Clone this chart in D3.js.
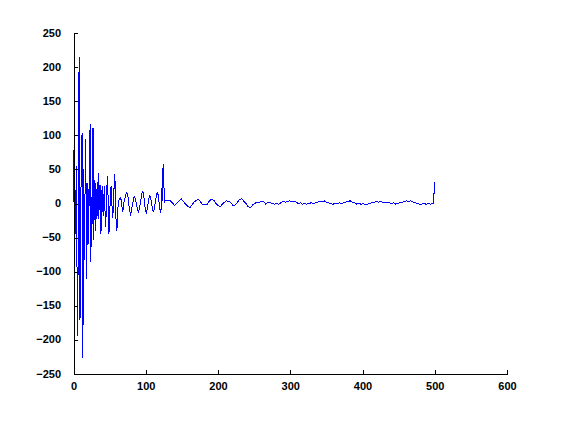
<!DOCTYPE html>
<html><head><meta charset="utf-8">
<script src="https://cdn.jsdelivr.net/npm/d3@7"></script>
<style>body{margin:0;background:#fff;overflow:hidden}</style>
</head><body>
<svg id="chart" width="561" height="421"></svg>
<script>
const xTicks = [0, 100, 200, 300, 400, 500, 600];
const yTicks = [-250, -200, -150, -100, -50, 0, 50, 100, 150, 200, 250];

// samples 0..127 (one per index)
const headValues = [78,-30,27,-45,55,-117,-195,152,215,-171,
  -20,88,104,-226,50,-83,20,95,-111,-40,
  30,-60,60,117,-86,10,-30,110,-53,35,
  -40,30,-22,31,-22,44,-10,27,-45,15,
  25,-19,10,25,-34,-20,20,40,5,-45,
  -20,10,25,5,-21,-10,20,43,20,-30,
  -41,-15,0,5,7,8,5,-5,-10,-8,
  4,7,12,15,16,12,5,-5,-12,-16,
  -12,-5,0,6,10,9,5,0,-6,-10,
  -12,-9,-3,4,11,16,18,13,5,-5,
  -11,-13,-9,-2,6,11,10,6,1,-5,
  -10,-11,-7,0,7,13,16,13,5,-4,
  -11,-13,22,3,58,30,3,5];

// later samples
const tailIndex = [128,131,134,137,140,143,146,149,152,155,158,161,164,167,170,173,176,179,182,185,
  188,191,194,197,200,203,206,209,212,215,218,221,224,227,230,233,236,239,242,245,
  248,251,254,257,260,263,266,269,272,275,278,281,284,287,290,293,296,299,302,305,
  308,311,314,317,320,323,326,329,332,335,338,341,344,347,350,353,356,359,362,365,
  368,371,374,377,380,383,386,389,392,395,398,401,404,407,410,413,416,419,422,425,
  428,431,434,437,440,443,446,449,452,455,458,461,464,467,470,473,476,479,482,485,
  488,491,494,497,498,499,500];
const tailValues = [5,5,4,1,-3,0,4,7,3,-1,-4,-6,-2,2,5,6,2,-2,-1,-2,
  4,6,5,0,-3,-5,-1,2,4,3,1,-3,-2,2,6,7,3,0,-5,-6,
  -2,0,2,2,3,3,-1,2,1,0,-1,0,-1,1,3,2,3,4,3,3,
  2,0,1,-1,0,-1,0,1,0,1,2,3,2,4,2,1,0,-1,0,0,
  1,0,1,2,3,4,2,1,-1,0,-1,0,-2,-1,0,1,1,3,2,3,
  2,1,2,1,0,1,-1,0,2,2,3,4,3,4,2,1,0,-1,-1,0,
  -1,0,-1,0,0,15,31];

const data = headValues.map((v, i) => ({i: i, v: v}))
  .concat(tailIndex.map((idx, k) => ({i: idx, v: tailValues[k]})));

const svg = d3.select("#chart");
const x = d3.scaleLinear().domain([0, 600]).range([73.5, 507]);
const y = d3.scaleLinear().domain([-250, 250]).range([374, 33]);

const font = "'Liberation Sans', Arial, Helvetica, sans-serif";

const line = d3.line().x(d => x(d.i)).y(d => y(d.v));
svg.append("path")
  .datum(data)
  .attr("d", line)
  .attr("fill", "none")
  .attr("stroke", "#0000ff")
  .attr("stroke-width", 1)
  .attr("shape-rendering", "crispEdges");

const gx = svg.append("g")
  .attr("transform", "translate(0,374)")
  .call(d3.axisBottom(x).tickValues(xTicks).tickSizeInner(-4.5).tickSizeOuter(0).tickPadding(8));
const gy = svg.append("g")
  .attr("transform", "translate(73.5,0)")
  .call(d3.axisLeft(y).tickValues(yTicks).tickSizeInner(-4.5).tickSizeOuter(0).tickPadding(12.5));

gy.selectAll(".tick text").attr("dy", "0.28em");
[gx, gy].forEach(g => {
  g.selectAll("path, line").attr("stroke", "#000").attr("stroke-width", 1).attr("shape-rendering", "crispEdges");
  g.selectAll("text").attr("fill", "#000").style("font-family", font).style("font-weight", "bold").style("font-size", "11px");
});
</script>
</body></html>
